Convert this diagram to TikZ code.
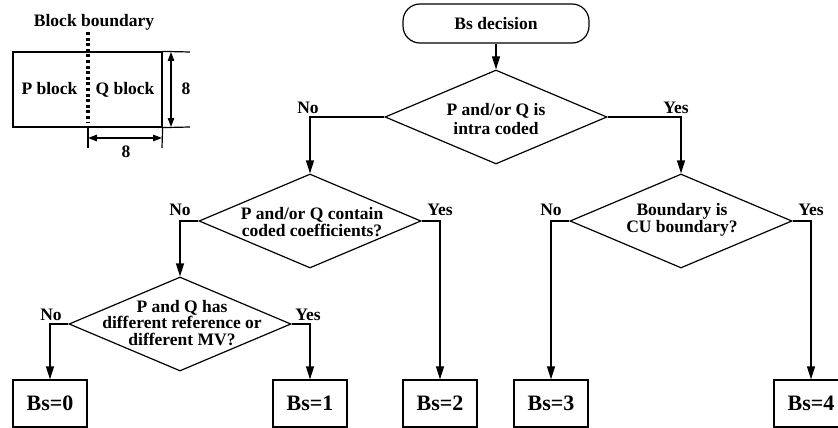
\documentclass[tikz,border=0pt]{standalone}
\usepackage{fontspec}
\setmainfont{Liberation Serif}
\usetikzlibrary{arrows.meta,shapes.geometric}
\begin{document}
\begin{tikzpicture}[x=1pt,y=-1pt,
  line width=1.2pt,
  every node/.style={font=\fontsize{17.5}{18}\selectfont\bfseries, inner sep=0pt},
  flow/.style={-{Triangle[length=13pt,width=8pt]}},
  dim/.style={{Triangle[length=9pt,width=6.5pt]}-{Triangle[length=9pt,width=6.5pt]}},
  dia/.style={draw, diamond, minimum width=222pt, minimum height=94pt},
  dtext/.style={align=center, font=\fontsize{17.5}{16.8}\selectfont\bfseries},
  bsbox/.style={draw, minimum width=74pt, minimum height=47pt,
                font=\fontsize{22}{24}\selectfont\bfseries},
  term/.style={draw, rounded corners=17pt, minimum width=186pt, minimum height=39pt},
  lab/.style={anchor=base}
]
\clip (0,0) rectangle (838,428);

% ---- block sketch with dimensions ----
\node[anchor=base] (bbtitle) at (94,27) {Block boundary};
\node[draw, minimum width=149pt, minimum height=75pt] (blk) at (87.5,89.5) {};
\coordinate (dtop) at (88,32);
\coordinate (dbot) at (88,122);
\draw[line width=3.2pt, dash pattern=on 3pt off 2.6pt] (dtop) -- (dbot);
\node[anchor=base] (pblk) at (49.5,95) {P block};
\node[anchor=base] (qblk) at (125,95) {Q block};

\coordinate (ext1) at (190,52);
\coordinate (ext2) at (190,127);
\draw (blk.north east) -- (ext1);
\draw (blk.south east) -- (ext2);
\coordinate (va) at (171,52);
\coordinate (vb) at (171,127);
\draw[dim] (va) -- (vb);
\node[anchor=base] (hdim) at (186,95) {8};

\coordinate (bx1) at (88,127);
\coordinate (bx1e) at (88,148);
\coordinate (bx2e) at (162,148);
\draw (bx1) -- (bx1e);
\draw (blk.south east) -- (bx2e);
\coordinate (ha) at (88,138);
\coordinate (hb) at (162,138);
\draw[dim] (ha) -- (hb);
\node[anchor=base] (wdim) at (126,157) {8};

% ---- flow chart ----
\node[term] (start) at (496,23.5) {Bs decision};

\node[dia] (d1) at (496,117) {};
\node[dtext, font=\fontsize{17.5}{18.5}\selectfont\bfseries] (t1) at (496,119) {P and/or Q is\\intra coded};

\node[dia] (d2) at (310,221) {};
\node[dtext] (t2) at (312,222) {P and/or Q contain\\coded coefficients?};

\node[dia] (d3) at (180,324) {};
\node[dtext] (t3) at (182,323) {P and Q has\\different reference or\\different MV?};

\node[dia] (d4) at (681,221) {};
\node[dtext] (t4) at (682,220) {Boundary is\\CU boundary?};

\node[bsbox] (b0) at (50,403.5) {Bs=0};
\node[bsbox] (b1) at (310,403.5) {Bs=1};
\node[bsbox] (b2) at (440,403.5) {Bs=2};
\node[bsbox] (b3) at (551,403.5) {Bs=3};
\node[bsbox] (b4) at (811,403.5) {Bs=4};

\draw[flow] (start) -- (d1);
\draw[flow] (d1.west) -| (d2.north);
\draw[flow] (d1.east) -| (d4.north);
\draw[flow] (d2.west) -| (d3.north);
\draw[flow] (d2.east) -| (b2.north);
\draw[flow] (d3.west) -| (b0.north);
\draw[flow] (d3.east) -| (b1.north);
\draw[flow] (d4.west) -| (b3.north);
\draw[flow] (d4.east) -| (b4.north);

\node[lab] (no1) at (308,113) {No};
\node[lab] (yes1) at (676,113) {Yes};
\node[lab] (no2) at (180,215) {No};
\node[lab] (yes2) at (440,215) {Yes};
\node[lab] (no3) at (51,320) {No};
\node[lab] (yes3) at (308,320) {Yes};
\node[lab] (no4) at (551,215) {No};
\node[lab] (yes4) at (811,215) {Yes};
\end{tikzpicture}
\end{document}
